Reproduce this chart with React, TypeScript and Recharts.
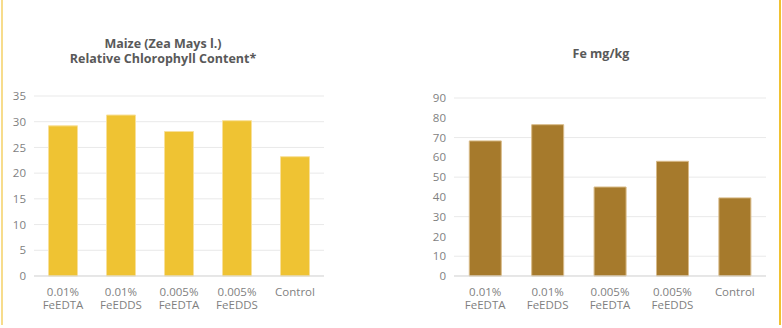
import { BarChart, Bar, XAxis, YAxis, CartesianGrid } from 'recharts';

const categories = ['0.01%|FeEDTA', '0.01%|FeEDDS', '0.005%|FeEDTA', '0.005%|FeEDDS', 'Control'];
const chlorophyll = [29.2, 31.3, 28.1, 30.2, 23.2];
const ironContent = [68.3, 76.5, 45.0, 58.0, 39.5];
const chlorophyllTicks = [0, 5, 10, 15, 20, 25, 30, 35];
const ironTicks = [0, 10, 20, 30, 40, 50, 60, 70, 80, 90];

const FONT = '"Open Sans", Lato, sans-serif';
const TICK_COLOR = '#7f7f7f';
const TITLE_COLOR = '#595959';
const YELLOW = '#efc333';
const BROWN = '#a67a2c';

const chlorophyllData = categories.map((name, i) => ({ name, value: chlorophyll[i] }));
const ironData = categories.map((name, i) => ({ name, value: ironContent[i] }));

// category names carry a "|" where the label wraps onto a second line
function CategoryTick({ x, y, payload }: { x?: number; y?: number; payload?: { value: string } }) {
  const lines = String(payload?.value ?? '').split('|');
  const top = (y ?? 0) + 12;
  return (
    <g>
      {lines.map((line, i) => (
        <text
          key={i}
          x={x}
          y={top + i * 12.5}
          textAnchor="middle"
          fill={TICK_COLOR}
          fontSize={11.5}
          fontFamily={FONT}
        >
          {line}
        </text>
      ))}
    </g>
  );
}

type PanelProps = {
  data: { name: string; value: number }[];
  ticks: number[];
  fill: string;
  stroke: string;
  width: number;
  marginRight: number;
  marginTop: number;
  gap: string;
};

function Panel({ data, ticks, fill, stroke, width, marginRight, marginTop, gap }: PanelProps) {
  return (
    <BarChart
      width={width}
      height={328}
      data={data}
      margin={{ top: marginTop, right: marginRight, left: 0, bottom: 12 }}
      barCategoryGap={gap}
    >
      <CartesianGrid vertical={false} stroke="#e9e9e9" />
      <XAxis
        dataKey="name"
        interval={0}
        tickLine={false}
        axisLine={{ stroke: '#d9d9d9' }}
        height={40}
        tick={<CategoryTick />}
      />
      <YAxis
        width={34}
        domain={[0, ticks[ticks.length - 1]]}
        ticks={ticks}
        axisLine={false}
        tickLine={false}
        tick={{ fill: TICK_COLOR, fontSize: 11.5, fontFamily: FONT }}
      />
      <Bar dataKey="value" fill={fill} stroke={stroke} strokeWidth={1} isAnimationActive={false} />
    </BarChart>
  );
}

export default function App() {
  const titleStyle: React.CSSProperties = {
    position: 'absolute',
    textAlign: 'center',
    fontFamily: FONT,
    fontWeight: 700,
    fontSize: 12.5,
    lineHeight: '15px',
    color: TITLE_COLOR,
  };
  return (
    <div
      style={{
        position: 'absolute',
        left: 0,
        top: 0,
        width: 782,
        height: 328,
        background: '#ffffff',
        overflow: 'hidden',
      }}
    >
      <div style={{ position: 'absolute', left: 1, top: 0, width: 2, height: 325, background: '#f7dc8c' }} />
      <div style={{ position: 'absolute', left: 779, top: 0, width: 2, height: 325, background: '#f0c232' }} />

      <div style={{ ...titleStyle, left: 43, top: 36, width: 240 }}>
        Maize (Zea Mays l.)
        <br />
        Relative Chlorophyll Content*
      </div>
      <div style={{ ...titleStyle, left: 501, top: 46, width: 200 }}>Fe mg/kg</div>

      <div style={{ position: 'absolute', left: 0, top: 0 }}>
        <Panel
          data={chlorophyllData}
          ticks={chlorophyllTicks}
          fill={YELLOW}
          stroke="#f8e09a"
          width={340}
          marginRight={16}
          marginTop={96}
          gap="25%"
        />
      </div>
      <div style={{ position: 'absolute', left: 420, top: 0 }}>
        <Panel
          data={ironData}
          ticks={ironTicks}
          fill={BROWN}
          stroke="#d8bb88"
          width={360}
          marginRight={14}
          marginTop={98}
          gap="24.5%"
        />
      </div>
    </div>
  );
}
